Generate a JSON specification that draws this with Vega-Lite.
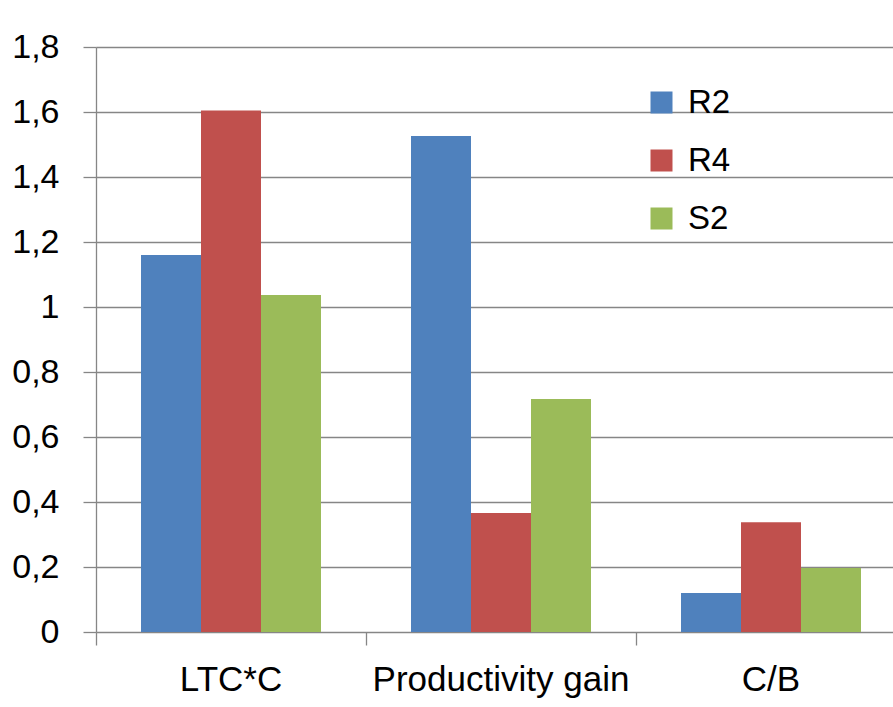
{
  "$schema": "https://vega.github.io/schema/vega-lite/v6.json",
  "autosize": {"type": "none"},
  "width": 810,
  "height": 585,
  "padding": {"left": 96, "top": 47, "right": 0, "bottom": 75},
  "background": "white",
  "data": {
    "values": [
      {"category": "LTC*C", "series": "R2", "value": 1.16},
      {"category": "LTC*C", "series": "R4", "value": 1.605},
      {"category": "LTC*C", "series": "S2", "value": 1.037},
      {"category": "Productivity gain", "series": "R2", "value": 1.526},
      {"category": "Productivity gain", "series": "R4", "value": 0.366},
      {"category": "Productivity gain", "series": "S2", "value": 0.717},
      {"category": "C/B", "series": "R2", "value": 0.12},
      {"category": "C/B", "series": "R4", "value": 0.338},
      {"category": "C/B", "series": "S2", "value": 0.197}
    ]
  },
  "mark": {"type": "bar"},
  "encoding": {
    "x": {
      "field": "category",
      "type": "nominal",
      "sort": ["LTC*C", "Productivity gain", "C/B"],
      "scale": {"paddingInner": 0, "paddingOuter": 0},
      "axis": {
        "title": null,
        "labelAngle": 0,
        "bandPosition": 0,
        "domain": false,
        "ticks": true,
        "tickSize": 13,
        "tickColor": "#868686",
        "tickWidth": 1.3,
        "labelFont": "Liberation Sans",
        "labelFontSize": 35,
        "labelColor": "#000000",
        "labelLimit": 0,
        "labelPadding": 17
      }
    },
    "xOffset": {
      "field": "series",
      "type": "nominal",
      "scale": {"paddingInner": 0, "paddingOuter": 0.75}
    },
    "y": {
      "field": "value",
      "type": "quantitative",
      "scale": {"domain": [0, 1.8], "nice": false},
      "axis": {
        "title": null,
        "values": [0, 0.2, 0.4, 0.6, 0.8, 1, 1.2, 1.4, 1.6, 1.8],
        "labelExpr": "replace(format(datum.value, '~g'), '.', ',')",
        "grid": true,
        "gridColor": "#868686",
        "gridWidth": 1.3,
        "domain": true,
        "domainColor": "#868686",
        "domainWidth": 1.3,
        "tickSize": 13,
        "tickColor": "#868686",
        "tickWidth": 1.3,
        "labelFont": "Liberation Sans",
        "labelFontSize": 34,
        "labelColor": "#000000",
        "labelPadding": 24
      }
    },
    "color": {
      "field": "series",
      "type": "nominal",
      "scale": {"domain": ["R2", "R4", "S2"], "range": ["#4F81BD", "#C0504D", "#9BBB59"]},
      "legend": {
        "title": null,
        "orient": "none",
        "legendX": 549,
        "legendY": 39,
        "symbolType": "square",
        "symbolSize": 484,
        "symbolStrokeWidth": 0,
        "labelFont": "Liberation Sans",
        "labelFontSize": 33,
        "labelColor": "#000000",
        "labelOffset": 10,
        "rowPadding": 24
      }
    }
  },
  "config": {
    "view": {"stroke": null}
  }
}
